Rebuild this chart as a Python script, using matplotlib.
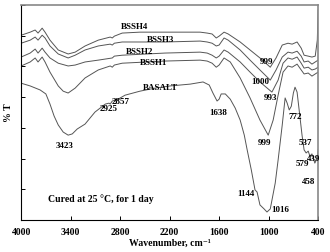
import matplotlib
matplotlib.use('Agg')
import matplotlib.pyplot as plt

plt.rcParams['font.family'] = ['Liberation Serif', 'DejaVu Serif']
plt.rcParams['font.weight'] = 'bold'

# wavenumber (cm-1) and %T
bssh4_x = [4000, 3890, 3830, 3795, 3745, 3710, 3650, 3550, 3430, 3345, 3225, 3065, 2920, 2895, 2870, 2775,
           2560, 1830, 1745, 1685, 1635, 1600, 1540, 1490, 1345, 1225, 1105, 980, 910, 835, 765, 715, 655,
           605, 570, 520, 475, 435, 410, 400]
bssh4_y = [60.1, 61.1, 61.8, 60.8, 62.4, 61.1, 58.5, 55.3, 54.0, 54.6, 56.6, 58.5, 59.5, 59.2, 59.8, 60.8,
           61.1, 61.1, 60.8, 60.5, 59.2, 59.8, 61.1, 60.5, 57.9, 55.3, 52.7, 49.7, 52.7, 56.9, 57.5, 57.2, 57.9,
           55.9, 53.6, 53.3, 53.0, 53.3, 58.5, 68.3]

bssh3_x = [4000, 3890, 3830, 3795, 3745, 3710, 3650, 3550, 3430, 3345, 3225, 3065, 2920, 2895, 2870, 2775,
           2255, 1830, 1745, 1685, 1635, 1600, 1540, 1490, 1345, 1225, 1105, 980, 910, 835, 765, 715, 655,
           605, 570, 520, 475, 435, 400]
bssh3_y = [57.5, 58.5, 59.5, 58.5, 60.1, 59.2, 56.6, 54.0, 52.7, 53.6, 55.3, 56.6, 57.2, 56.9, 57.5, 57.9,
           57.9, 58.2, 57.9, 57.5, 56.6, 56.9, 59.2, 58.5, 55.3, 52.0, 48.8, 45.5, 48.8, 53.0, 54.6, 54.3, 54.9,
           53.3, 51.4, 51.7, 50.7, 51.4, 52.0]

bssh2_x = [4000, 3890, 3830, 3795, 3745, 3710, 3650, 3550, 3430, 3345, 3225, 3065, 2895, 2870, 2775, 2255,
           1830, 1745, 1685, 1635, 1600, 1540, 1490, 1345, 1225, 1105, 960, 885, 825, 765, 715, 655, 605,
           570, 520, 475, 435, 400]
bssh2_y = [53.0, 54.3, 55.6, 54.3, 55.9, 54.6, 52.7, 51.0, 50.1, 50.4, 51.4, 52.0, 52.7, 53.3, 53.6, 54.3,
           54.6, 54.3, 53.6, 52.7, 53.3, 55.3, 54.6, 51.4, 48.1, 44.9, 41.6, 45.5, 51.0, 52.7, 52.3, 53.0, 51.0,
           49.4, 49.7, 48.8, 49.1, 49.7]

bssh1_x = [4000, 3890, 3830, 3795, 3745, 3710, 3650, 3550, 3490, 3430, 3345, 3225, 3065, 2920, 2895, 2870,
           2775, 2255, 1830, 1745, 1685, 1635, 1600, 1540, 1465, 1345, 1225, 1105, 1005, 945, 885, 825, 765,
           715, 655, 605, 570, 520, 475, 435, 400]
bssh1_y = [50.1, 51.4, 52.7, 51.4, 53.0, 51.4, 48.1, 43.6, 41.9, 41.3, 42.9, 46.2, 48.8, 50.1, 49.7, 50.4,
           51.0, 51.7, 52.0, 51.7, 51.0, 49.7, 50.4, 52.7, 51.4, 46.2, 39.7, 32.5, 27.6, 32.5, 40.6, 48.1, 50.1,
           49.7, 50.7, 48.8, 47.5, 47.8, 46.8, 47.5, 48.1]

basalt_x = [4000, 3890, 3770, 3700, 3650, 3600, 3550, 3490, 3430, 3380, 3320, 3225, 3105, 2980, 2935, 2920,
            2895, 2860, 2850, 2825, 2740, 2560, 2375, 2195, 1950, 1795, 1720, 1675, 1625, 1600, 1575, 1525,
            1465, 1405, 1345, 1295, 1260, 1210, 1165, 1140, 1105, 1055, 1020, 980, 920, 885, 835, 800, 775,
            750, 725, 700, 680, 655, 630, 595, 570, 545, 520, 500, 475, 450, 440, 410, 400]
basalt_y = [44.5, 43.6, 42.3, 41.0, 37.7, 33.8, 30.9, 28.6, 27.6, 28.0, 29.6, 31.2, 35.1, 37.7, 38.0, 37.7,
            38.7, 39.0, 38.7, 39.3, 40.6, 41.9, 42.9, 43.6, 44.2, 44.9, 43.9, 41.3, 38.7, 39.3, 41.0, 41.0,
            39.3, 36.4, 32.5, 27.6, 22.8, 16.3, 9.8, 9.1, 4.9, 3.6, 2.6, 3.6, 12.0, 19.5, 30.9, 39.7, 38.0,
            35.8, 37.0, 41.3, 43.2, 41.6, 35.8, 27.6, 22.8, 21.8, 22.4, 20.8, 21.5, 19.5, 18.5, 20.2, 22.8]

# peak labels: text, wavenumber, %T
peak_text = ['3423', '2925', '2857', '1638', '999', '1000', '993', '999', '772', '537', '439', '579', '458',
             '1144', '1016']
peak_x = [3467, 2945, 2790, 1610, 1030, 1105, 980, 1045, 680, 555, 450, 595, 510, 1270, 860]
peak_y = [24.0, 36.1, 38.4, 34.8, 51.4, 44.9, 39.7, 25.0, 33.5, 25.0, 19.8, 18.2, 12.4, 8.5, 3.3]

names = ['BSSH4', 'BSSH3', 'BSSH2', 'BSSH1', 'BASALT']
name_x = [2620, 2315, 2560, 2400, 2315]
name_y = [62.7, 58.5, 54.6, 51.0, 42.9]

fig = plt.figure(figsize=(3.3, 2.52), dpi=100)
ax = fig.add_axes([0.064, 0.127, 0.9, 0.854])

lc = '#555555'
for xs, ys in [(bssh4_x, bssh4_y), (bssh3_x, bssh3_y), (bssh2_x, bssh2_y),
               (bssh1_x, bssh1_y), (basalt_x, basalt_y)]:
    ax.plot(xs, ys, color=lc, lw=0.7)

for t, x, y in zip(peak_text, peak_x, peak_y):
    ax.text(x, y, t, fontsize=6.5, fontweight='bold', ha='center', va='center')
for t, x, y in zip(names, name_x, name_y):
    ax.text(x, y, t, fontsize=6.5, fontweight='bold', ha='center', va='center')

ax.text(3030, 6.8, 'Cured at 25 \u00b0C, for 1 day', fontsize=7, fontweight='bold', ha='center', va='center')

ax.set_xlim(4000, 400)
ax.set_ylim(0, 70)
ax.set_xticks([4000, 3400, 2800, 2200, 1600, 1000, 400])
ax.set_yticks(range(0, 71, 10))
ax.set_yticklabels([])
ax.tick_params(direction='in', length=3, width=0.7, labelsize=7, pad=6)
for lab in ax.get_xticklabels():
    lab.set_fontweight('bold')
ax.set_xlabel('Wavenumber, cm\u207b\u00b9', fontsize=7, fontweight='bold', labelpad=1)
ax.set_ylabel('% T', fontsize=7, fontweight='bold')
ax.yaxis.set_label_coords(-0.028, 0.5)
for s in ['left', 'bottom']:
    ax.spines[s].set_linewidth(0.8)
for s in ['top', 'right']:
    ax.spines[s].set_color('#888888')
    ax.spines[s].set_linewidth(1.2)

fig.savefig('out.png', dpi=100)
